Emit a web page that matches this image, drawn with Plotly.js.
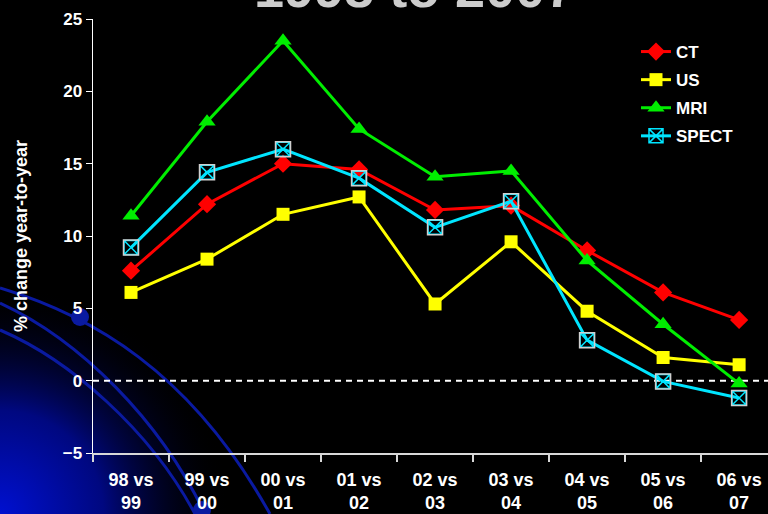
<!DOCTYPE html>
<html><head><meta charset="utf-8">
<script src="https://cdn.plot.ly/plotly-3.0.1.min.js"></script>
<style>html,body{margin:0;padding:0;background:#000;}#chart{width:768px;height:514px;}</style>
</head><body><div id="chart"></div>
<script>
const categories = ["98 vs<br>99","99 vs<br>00","00 vs<br>01","01 vs<br>02","02 vs<br>03","03 vs<br>04","04 vs<br>05","05 vs<br>06","06 vs<br>07"];
const ctValues    = [7.6, 12.2, 15.0, 14.6, 11.8, 12.1, 9.0, 6.1, 4.2];
const usValues    = [6.1, 8.4, 11.5, 12.7, 5.3, 9.6, 4.8, 1.6, 1.1];
const mriValues   = [11.4, 17.9, 23.5, 17.4, 14.1, 14.5, 8.3, 3.9, -0.2];
const spectValues = [9.2, 14.4, 16.0, 14.0, 10.6, 12.4, 2.8, -0.05, -1.2];
const seriesNames = ["CT","US","MRI","SPECT"];
const titleText = "1998 to 2007";
const yTitle = "% change year-to-year";

const bgSvg = '<svg xmlns="http://www.w3.org/2000/svg" width="768" height="514" viewBox="0 0 768 514">' +
 '<defs><radialGradient id="g" cx="0" cy="514" r="230" gradientUnits="userSpaceOnUse">' +
 '<stop offset="0" stop-color="#0010d0"/><stop offset="0.45" stop-color="#000880"/><stop offset="1" stop-color="#000000" stop-opacity="0"/></radialGradient></defs>' +
 '<rect x="0" y="250" width="300" height="264" fill="url(#g)"/>' +
 '<g fill="none" stroke="#0a1aa0" stroke-width="3">' +
 '<path d="M0,288 C90,315 190,370 270,514"/>' +
 '<path d="M0,303 C80,340 160,420 205,514"/>' +
 '<path d="M0,330 C70,360 150,430 195,514"/></g>' +
 '<circle cx="80" cy="317" r="9" fill="#0a1aa0"/><circle cx="202" cy="510" r="9" fill="#0a1aa0"/>' +
 '</svg>';
const bgSrc = 'data:image/svg+xml;charset=utf-8,' + encodeURIComponent(bgSvg);

const fam = '"Liberation Sans", Arial, sans-serif';
function tr(y, name, color, symbol, size, grp, extra) {
  return Object.assign({
    x: categories, y: y, name: name, type: 'scatter', mode: 'lines+markers',
    line: {color: color, width: 3}, legendgroup: grp,
    marker: {symbol: symbol, size: size, color: color}
  }, extra || {});
}
const traces = [
  tr(ctValues, seriesNames[0], '#ff0000', 'diamond', 14, 'a'),
  tr(usValues, seriesNames[1], '#ffff00', 'square', 13, 'b'),
  tr(mriValues, seriesNames[2], '#00ee00', 'triangle-up', 15, 'c'),
  tr(spectValues, seriesNames[3], '#00e5ff', 'square-x-open', 14, 'd', {marker: {symbol: 'square-x-open', size: 14, color: '#00e5ff', line: {width: 1.5}}}),
  {x: categories, y: spectValues, type: 'scatter', mode: 'markers', showlegend: false, hoverinfo: 'skip', legendgroup: 'd',
   marker: {symbol: 'square-open', size: 15, color: '#d0d0d0', line: {width: 1.5}}}
];
const PW = 675, PH = 434;
const layout = {
  width: 768, height: 514,
  paper_bgcolor: '#000000', plot_bgcolor: 'rgba(0,0,0,0)',
  margin: {l: 93, r: 0, t: 19, b: 61, autoexpand: false},
  font: {family: fam, color: '#ffffff'},
  showlegend: true,
  legend: {x: (636 - 93) / PW, y: 1 - (34 - 19) / PH, xanchor: 'left', yanchor: 'top',
    bgcolor: 'rgba(0,0,0,0)', font: {family: fam, color: '#fff', size: 17, weight: 'bold'},
    tracegroupgap: 3, traceorder: 'grouped'},
  xaxis: {type: 'category', range: [-0.5, 8.38], showgrid: false, zeroline: false,
    showline: true, linecolor: '#d8d8d8', linewidth: 2, ticks: 'outside', tickson: 'boundaries',
    ticklen: 7, tickcolor: '#d8d8d8', tickwidth: 2, ticklabelstandoff: 9,
    tickfont: {family: fam, color: '#fff', size: 18, weight: 'bold'}},
  yaxis: {range: [-5, 25], dtick: 5, showgrid: false, zeroline: false,
    showline: true, linecolor: '#ffffff', linewidth: 1.5, ticks: 'outside', ticklen: 6, tickcolor: '#fff',
    tickfont: {family: fam, color: '#fff', size: 17, weight: 'bold'},
    title: {text: yTitle, font: {family: fam, color: '#fff', size: 18, weight: 'bold'}, standoff: 30}},
  shapes: [{type: 'line', xref: 'paper', yref: 'y', x0: 0, x1: 1, y0: 0, y1: 0,
    line: {color: '#ffffff', width: 2, dash: '6px,5px'}, layer: 'below'}],
  images: [{source: bgSrc, xref: 'paper', yref: 'paper', x: -93 / PW, y: 1 + 19 / PH,
    sizex: 768 / PW, sizey: 514 / PH, xanchor: 'left', yanchor: 'top', sizing: 'stretch', layer: 'below'}],
  annotations: [{text: titleText, xref: 'paper', yref: 'paper', x: (414 - 93) / PW, y: 1, xanchor: 'center', yanchor: 'bottom',
    yshift: -1, showarrow: false, font: {family: fam, color: '#cccccc', size: 54, weight: 'bold'}}]
};
Plotly.newPlot('chart', traces, layout, {displayModeBar: false, staticPlot: true});
</script></body></html>
